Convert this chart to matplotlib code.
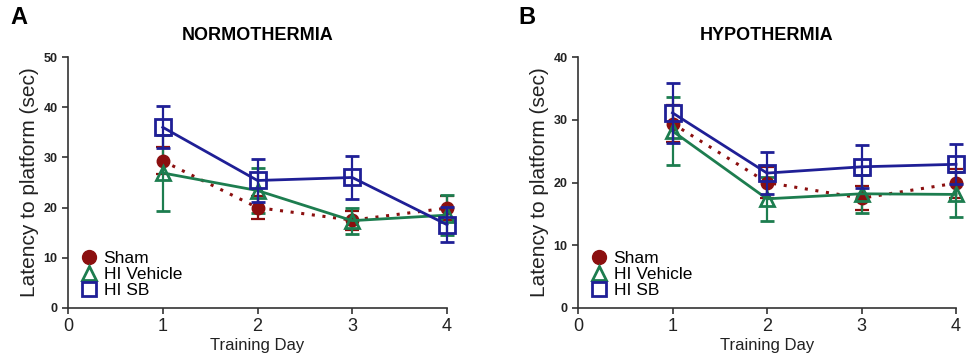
import matplotlib.pyplot as plt
from matplotlib.lines import Line2D

days = [1, 2, 3, 4]

# Normothermia
norm_sham = [29.3, 20.0, 17.5, 19.9]
norm_sham_err = [2.7, 2.3, 1.9, 2.4]
norm_veh = [26.9, 23.4, 17.4, 18.5]
norm_veh_err = [7.6, 4.5, 2.6, 4.0]
norm_sb = [36.0, 25.4, 26.0, 16.6]
norm_sb_err = [4.2, 4.2, 4.2, 3.5]

# Hypothermia
hypo_sham = [29.4, 20.0, 17.5, 19.9]
hypo_sham_err = [2.9, 2.4, 1.9, 2.3]
hypo_veh = [28.2, 17.4, 18.2, 18.1]
hypo_veh_err = [5.4, 3.5, 3.0, 3.6]
hypo_sb = [31.1, 21.5, 22.5, 22.9]
hypo_sb_err = [4.8, 3.4, 3.4, 3.2]

titles = ['NORMOTHERMIA', 'HYPOTHERMIA']
letters = ['A', 'B']
ymax = [50, 40]

red = '#8b0f0f'
green = '#1d7d4f'
blue = '#1f1f96'

plt.rcParams['font.family'] = ['Liberation Sans', 'DejaVu Sans']

fig = plt.figure(figsize=(9.66, 3.62), dpi=100)
axA = fig.add_axes([68/966, 54/362, 379/966, 251/362])
axB = fig.add_axes([578/966, 54/362, 378/966, 251/362])

data = [
    (norm_sham, norm_sham_err, norm_veh, norm_veh_err, norm_sb, norm_sb_err),
    (hypo_sham, hypo_sham_err, hypo_veh, hypo_veh_err, hypo_sb, hypo_sb_err),
]

handles = [
    Line2D([], [], color=red, marker='o', markersize=10, linestyle='none'),
    Line2D([], [], color=green, marker='^', markersize=10, markerfacecolor='none',
           markeredgewidth=2, linestyle='none'),
    Line2D([], [], color=blue, marker='s', markersize=10, markerfacecolor='none',
           markeredgewidth=2, linestyle='none'),
]
labels = ['Sham', 'HI Vehicle', 'HI SB']

for i, ax in enumerate([axA, axB]):
    sham, sham_e, veh, veh_e, sb, sb_e = data[i]
    ax.errorbar(days, sham, yerr=sham_e, color=red, linestyle=(0, (1, 2.5)), linewidth=2.2,
                marker='o', markersize=9, capsize=5, elinewidth=1.6, capthick=1.6,
                clip_on=False, zorder=3)
    ax.errorbar(days, veh, yerr=veh_e, color=green, linestyle='-', linewidth=2,
                marker='^', markersize=10, markerfacecolor='none', markeredgewidth=2,
                capsize=5, elinewidth=1.6, capthick=1.6, clip_on=False, zorder=3)
    ax.errorbar(days, sb, yerr=sb_e, color=blue, linestyle='-', linewidth=2,
                marker='s', markersize=11, markerfacecolor='none', markeredgewidth=2,
                capsize=5, elinewidth=1.6, capthick=1.6, clip_on=False, zorder=4)
    ax.set_xlim(0, 4)
    ax.set_ylim(0, ymax[i])
    ax.set_xticks([0, 1, 2, 3, 4])
    ax.set_yticks(range(0, ymax[i] + 1, 10))
    ax.spines['top'].set_visible(False)
    ax.spines['right'].set_visible(False)
    for s in ['left', 'bottom']:
        ax.spines[s].set_color('#333333')
        ax.spines[s].set_linewidth(1.2)
    ax.tick_params(axis='x', labelsize=13, length=4, width=1.2, colors='#333333',
                   labelcolor='#222222')
    ax.tick_params(axis='y', labelsize=9, length=4, width=1.2, colors='#333333',
                   labelcolor='#222222')
    for lab in ax.get_yticklabels():
        lab.set_fontweight('bold')
    ax.set_xlabel('Training Day', fontsize=12, color='#222222', labelpad=2)
    ax.set_ylabel('Latency to platform (sec)', fontsize=15, color='#222222', labelpad=3)
    ax.set_title(titles[i], fontsize=13, fontweight='bold', pad=12)
    ax.legend(handles, labels, loc='lower left', bbox_to_anchor=(0.0, -0.01), frameon=False,
              fontsize=12.5, handlelength=1.0, handletextpad=0.35, labelspacing=0.05,
              borderaxespad=0.3)

fig.text(10/966, 1 - 18/362, 'A', fontsize=17, fontweight='bold', va='center')
fig.text(518/966, 1 - 18/362, 'B', fontsize=17, fontweight='bold', va='center')

plt.savefig('out.png', dpi=100)
